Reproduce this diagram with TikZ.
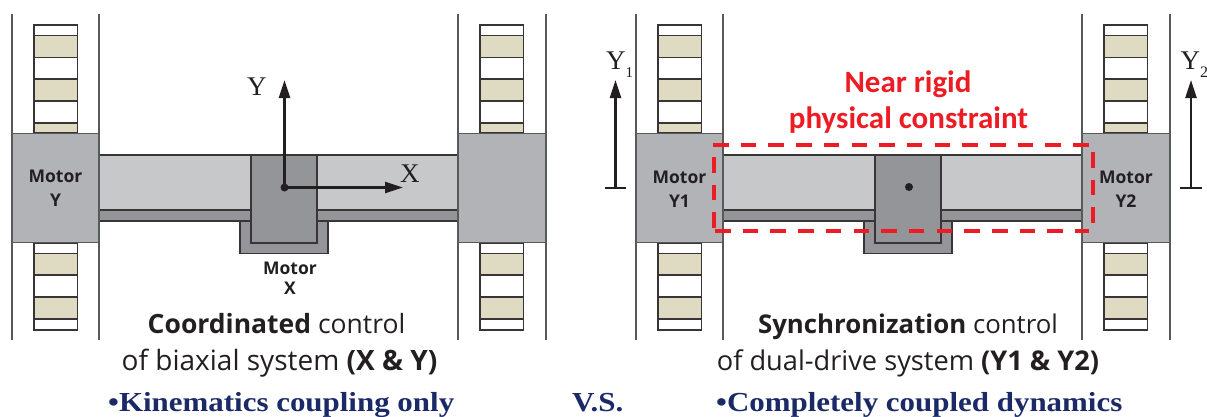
\documentclass[tikz,border=0pt]{standalone}
\usepackage{fontspec}
\setmainfont{Open Sans}
\newfontfamily\redfont{Carlito}
\newfontfamily\serifnum{Liberation Serif}
\newfontfamily\navyfont[FakeStretch=1.125]{Liberation Serif}
\usetikzlibrary{arrows.meta}
\definecolor{tanc}{HTML}{DFDBC3}
\definecolor{motorc}{HTML}{B1B3B6}
\definecolor{beamc}{HTML}{C7C8CA}
\definecolor{darkc}{HTML}{939598}
\definecolor{linec}{HTML}{231F20}
\definecolor{railc}{HTML}{58595B}
\definecolor{redc}{HTML}{ED1C24}
\definecolor{navyc}{HTML}{1B2A67}
\tikzset{
  outline/.style={draw=linec!90!white,line width=1.5pt},
  railline/.style={draw=railc,line width=1.5pt},
  belttan/.style={outline,fill=tanc},
  beltwhite/.style={outline,fill=white},
  motorbox/.style={draw=railc,line width=1.5pt,fill=motorc},
  beambox/.style={outline,fill=beamc},
  darkbox/.style={outline,fill=darkc},
  axisarrow/.style={draw=linec,line width=2.3pt,-{Triangle[length=18pt,width=11pt]}},
  ticks/.style={draw=linec,line width=1.8pt},
  motorlabel/.style={font=\fontsize{17.5}{24}\selectfont\bfseries,text=linec,align=center,inner sep=0pt},
  caption/.style={text=linec,inner sep=0pt,anchor=base},
  romanlabel/.style={font=\serifnum\fontsize{27}{30}\selectfont,text=linec,inner sep=0pt,anchor=base west},
  redlabel/.style={font=\redfont\bfseries\fontsize{31}{36}\selectfont,text=redc,inner sep=0pt,anchor=base},
  bullet/.style={font=\navyfont\bfseries\fontsize{27.5}{30}\selectfont,text=navyc,inner sep=0pt,anchor=base west},
  reddash/.style={draw=redc,line width=3.6pt,dash pattern=on 15.5pt off 12.2pt},
  pivot/.style={circle,fill=linec,inner sep=0pt,minimum size=8pt},
}
\newcommand{\assembly}[1]{%
 \begin{scope}[xshift=#1pt]
  \draw[railline] (12,14) -- (12,340);
  \draw[railline] (99,14) -- (99,340);
  \draw[railline] (458,14) -- (458,340);
  \draw[railline] (546,14) -- (546,340);
  \foreach \bx in {34,480}{
   \begin{scope}[xshift=\bx pt]
    \draw[beltwhite] (0,25) rectangle (43.5,35.5);
    \draw[belttan] (0,35.5) rectangle (43.5,57.5);
    \draw[beltwhite] (0,57.5) rectangle (43.5,79);
    \draw[belttan] (0,79) rectangle (43.5,101);
    \draw[beltwhite] (0,101) rectangle (43.5,123);
    \draw[belttan] (0,123) rectangle (43.5,133);
    \draw[beltwhite] (0,243) rectangle (43.5,253.5);
    \draw[belttan] (0,253.5) rectangle (43.5,275);
    \draw[beltwhite] (0,275) rectangle (43.5,297);
    \draw[belttan] (0,297) rectangle (43.5,319);
    \draw[beltwhite] (0,319) rectangle (43.5,330);
   \end{scope}}
  \draw[darkbox] (240,215) rectangle (328,253.5);
  \draw[beambox] (99,155) rectangle (458,210);
  \draw[outline,fill=darkc] (99,210) rectangle (458,221);
  \draw[darkbox] (251,155) rectangle (317,243);
  \draw[motorbox] (12,133.5) rectangle (99,242.5);
  \draw[motorbox] (458,133.5) rectangle (546,242.5);
 \end{scope}}
\begin{document}
\begin{tikzpicture}[x=1pt,y=-1pt]
\useasboundingbox (0,0) rectangle (1207,416);
\fill[white] (0,0) rectangle (1207,416);
\assembly{0}
\assembly{624}
% left diagram
\node[motorlabel] (motorY) at (55.5,188.5) {Motor\\Y};
\node[motorlabel,font=\fontsize{17.5}{20}\selectfont\bfseries] (motorX) at (290,278) {Motor\\X};
\node[pivot] (originL) at (284.5,187.5) {};
\coordinate (yTipL) at (284.5,80);
\coordinate (xTipL) at (403,187.5);
\draw[axisarrow] (originL.center) -- (yTipL);
\draw[axisarrow] (originL.center) -- (xTipL);
\node[romanlabel] (labY) at (247,95) {Y};
\node[romanlabel] (labX) at (400,182) {X};
% right diagram
\node[motorlabel] (motorYa) at (679.5,189) {Motor\\Y1};
\node[motorlabel] (motorYb) at (1126,189) {Motor\\Y2};
\node[pivot] (originR) at (909,187) {};
\coordinate (baseA) at (615.5,188);
\coordinate (tipA) at (615.5,80);
\coordinate (tickAl) at (605,188);
\coordinate (tickAr) at (626,188);
\draw[axisarrow] (baseA) -- (tipA);
\draw[ticks] (tickAl) -- (tickAr);
\coordinate (baseB) at (1191,188);
\coordinate (tipB) at (1191,80);
\coordinate (tickBl) at (1180,188);
\coordinate (tickBr) at (1202,188);
\draw[axisarrow] (baseB) -- (tipB);
\draw[ticks] (tickBl) -- (tickBr);
\node[romanlabel] (labYa) at (606,69) {Y\raisebox{-8pt}{\fontsize{15}{15}\selectfont 1}};
\node[romanlabel] (labYb) at (1180.5,69) {Y\raisebox{-8pt}{\fontsize{16}{16}\selectfont 2}};
% red dashed frame
\coordinate (d1) at (713,145);
\coordinate (d2) at (1089,145);
\coordinate (d3) at (715,231);
\coordinate (d4) at (1089,231);
\coordinate (d5) at (714,157);
\coordinate (d6) at (714,229);
\coordinate (d7) at (1093,152);
\coordinate (d8) at (1093,224);
\draw[reddash] (d1) -- (d2);
\draw[reddash] (d3) -- (d4);
\draw[reddash] (d5) -- (d6);
\draw[reddash] (d7) -- (d8);
\node[redlabel] (nearA) at (908,92) {Near rigid};
\node[redlabel] (nearB) at (908.5,128) {physical constraint};
% captions
\node[caption,font=\fontsize{26.5}{34}\selectfont] (capA) at (276.5,333) {\textbf{Coordinated} control};
\node[caption,font=\fontsize{28}{34}\selectfont] (capB) at (279.5,370) {of biaxial system \textbf{(X \& Y)}};
\node[caption,font=\fontsize{25.8}{34}\selectfont] (capC) at (908,333) {\textbf{Synchronization} control};
\node[caption,font=\fontsize{27.2}{34}\selectfont] (capD) at (908,370) {of dual-drive system \textbf{(Y1 \& Y2)}};
\node[bullet] (bulA) at (108,411) {•Kinematics coupling only};
\node[bullet] (vs) at (572,411) {V.S.};
\node[bullet] (bulB) at (716,411) {•Completely coupled dynamics};
\end{tikzpicture}
\end{document}
